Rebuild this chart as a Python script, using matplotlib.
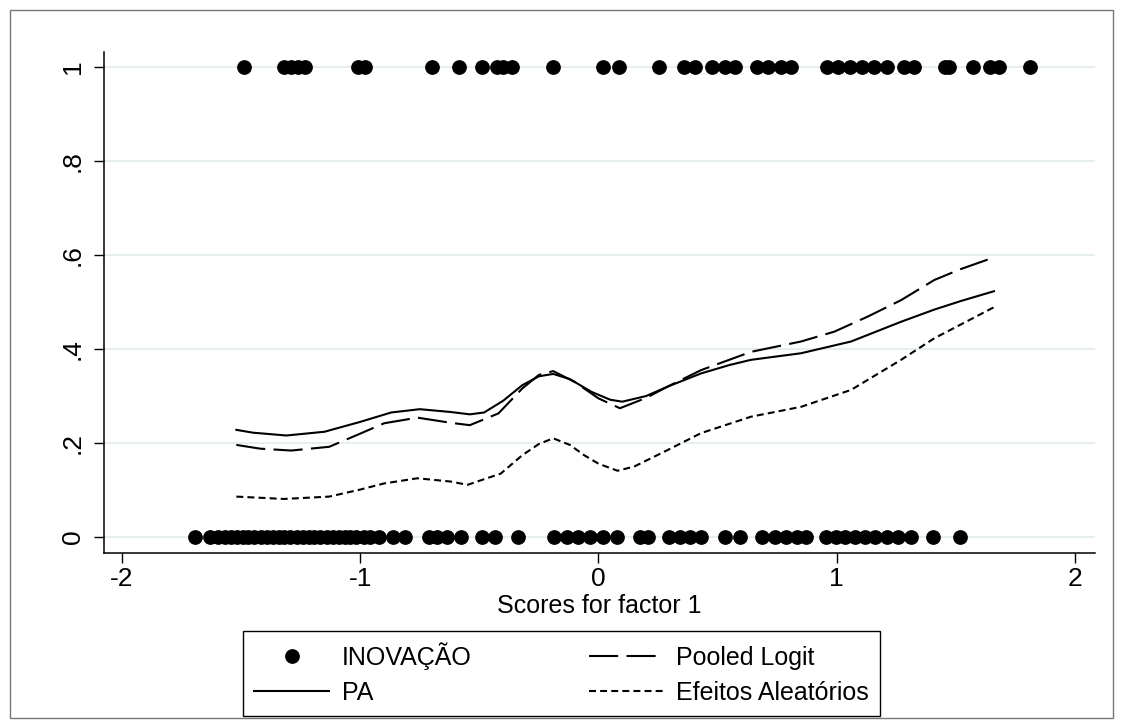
#!/usr/bin/env python3
"""
Predicted probability of innovation vs factor score: PA, pooled logit
and random-effects fits, with the observed 0/1 outcome as dots.
Output: out.png
"""
import matplotlib
matplotlib.use("Agg")
import matplotlib.pyplot as plt
import matplotlib.ticker as mticker
from matplotlib.lines import Line2D
from matplotlib.patches import Rectangle

plt.rcParams.update({
    "font.family":       ["Liberation Sans", "DejaVu Sans"],
    "font.size":         16,
    "axes.linewidth":    1.1,
    "axes.unicode_minus": False,
    "lines.scale_dashes": False,
    "figure.dpi":        100,
})

# observed outcome (INOVAÇÃO) by factor score
score_inov1 = [-1.486, -1.322, -1.292, -1.263, -1.230, -1.011, -0.978, -0.697,
               -0.587, -0.491, -0.424, -0.399, -0.361, -0.193, 0.017, 0.088,
               0.252, 0.361, 0.403, 0.478, 0.533, 0.575, 0.667, 0.713, 0.764,
               0.806, 0.961, 1.007, 1.057, 1.108, 1.158, 1.209, 1.284, 1.326,
               1.456, 1.473, 1.574, 1.645, 1.679, 1.813]
score_inov0 = [-1.695, -1.632, -1.595, -1.569, -1.544, -1.519, -1.494, -1.469,
               -1.444, -1.418, -1.393, -1.368, -1.343, -1.318, -1.293, -1.267,
               -1.242, -1.217, -1.192, -1.167, -1.141, -1.116, -1.091, -1.066,
               -1.041, -1.016, -0.986, -0.961, -0.923, -0.864, -0.814, -0.713,
               -0.676, -0.634, -0.579, -0.487, -0.436, -0.336, -0.185, -0.134,
               -0.084, -0.034, 0.017, 0.076, 0.176, 0.206, 0.294, 0.344, 0.386,
               0.432, 0.529, 0.596, 0.688, 0.739, 0.789, 0.835, 0.869, 0.953,
               0.995, 1.036, 1.078, 1.120, 1.162, 1.213, 1.259, 1.313, 1.402,
               1.519]

# fitted curves
pa_x = [-1.52, -1.45, -1.31, -1.15, -1.0, -0.87, -0.75, -0.62, -0.54, -0.48,
        -0.40, -0.32, -0.25, -0.19, -0.12, -0.03, 0.05, 0.10, 0.20, 0.29,
        0.43, 0.55, 0.64, 0.85, 1.06, 1.27, 1.41, 1.52, 1.66]
pa_y = [0.228, 0.222, 0.216, 0.224, 0.245, 0.265, 0.272, 0.266, 0.261, 0.265,
        0.290, 0.323, 0.342, 0.347, 0.336, 0.309, 0.292, 0.288, 0.300, 0.320,
        0.348, 0.366, 0.377, 0.391, 0.416, 0.458, 0.484, 0.502, 0.523]

pooled_x = [-1.52, -1.42, -1.29, -1.13, -1.0, -0.90, -0.76, -0.62, -0.54,
            -0.42, -0.32, -0.25, -0.19, -0.10, 0.0, 0.09, 0.20, 0.29, 0.43,
            0.64, 0.85, 0.99, 1.13, 1.27, 1.41, 1.52, 1.66]
pooled_y = [0.196, 0.188, 0.184, 0.192, 0.220, 0.242, 0.254, 0.243, 0.238,
            0.263, 0.316, 0.345, 0.353, 0.330, 0.295, 0.274, 0.296, 0.320,
            0.355, 0.394, 0.416, 0.437, 0.469, 0.504, 0.547, 0.570, 0.595]

re_x = [-1.52, -1.32, -1.13, -1.0, -0.90, -0.76, -0.62, -0.55, -0.41, -0.32,
        -0.25, -0.19, -0.12, -0.06, 0.0, 0.08, 0.15, 0.29, 0.43, 0.64, 0.85,
        1.06, 1.27, 1.41, 1.52, 1.66]
re_y = [0.086, 0.081, 0.086, 0.101, 0.114, 0.125, 0.118, 0.111, 0.135, 0.174,
        0.198, 0.210, 0.196, 0.174, 0.156, 0.141, 0.150, 0.185, 0.221, 0.256,
        0.277, 0.313, 0.377, 0.423, 0.452, 0.489]

x_ticks = [-2, -1, 0, 1, 2]
y_ticks = [0, 0.2, 0.4, 0.6, 0.8, 1]
y_ticklabels = ["0", ".2", ".4", ".6", ".8", "1"]

LONG_DASH = (0, (21, 6))
SHORT_DASH = (0, (5, 3))


def main():
    fig = plt.figure(figsize=(11.23, 7.24))
    ax = fig.add_axes([104 / 1123, 1 - 553 / 724, 991 / 1123, 501 / 724])

    # outer graph frame
    fig.add_artist(Rectangle((10 / 1123, 6 / 724), 1103 / 1123, 708 / 724,
                             transform=fig.transFigure, fill=False,
                             edgecolor="#777777", lw=1.0))

    for yv in y_ticks:
        ax.axhline(yv, color="#e6eef0", lw=1.4, zorder=0)

    ax.plot(score_inov1, [1] * len(score_inov1), "o", color="black",
            ms=9.6, zorder=5)
    ax.plot(score_inov0, [0] * len(score_inov0), "o", color="black",
            ms=9.6, zorder=5)
    ax.plot(pa_x, pa_y, color="black", lw=1.5, ls="-")
    ax.plot(pooled_x, pooled_y, color="black", lw=1.5, ls=LONG_DASH)
    ax.plot(re_x, re_y, color="black", lw=1.5, ls=SHORT_DASH)

    ax.set_xlim(-2.0755, 2.084)
    ax.set_ylim(-0.034, 1.032)
    ax.spines["top"].set_visible(False)
    ax.spines["right"].set_visible(False)
    ax.xaxis.set_major_locator(mticker.FixedLocator(x_ticks))
    ax.set_yticks(y_ticks)
    ax.set_yticklabels(y_ticklabels, rotation=90, va="center")
    ax.tick_params(axis="both", direction="out", length=7, width=1.0,
                   labelsize=19)
    ax.tick_params(axis="y", pad=7)
    ax.tick_params(axis="x", pad=3)
    ax.set_xlabel("Scores for factor 1", fontsize=18, labelpad=2)

    handles = [
        Line2D([], [], marker="o", ls="none", color="black", ms=9.6),
        Line2D([], [], color="black", lw=1.5, ls="-"),
        Line2D([], [], color="black", lw=1.5, ls=LONG_DASH),
        Line2D([], [], color="black", lw=1.5, ls=SHORT_DASH),
    ]
    labels = ["INOVAÇÃO", "PA", "Pooled Logit", "Efeitos Aleatórios"]
    leg = fig.legend(handles, labels, ncol=2, mode="expand",
                     bbox_to_anchor=(243 / 1123, 1 - 716 / 724, 637 / 1123, 80 / 724),
                     loc="lower left", borderaxespad=0, fontsize=18,
                     handlelength=3.0, fancybox=False, edgecolor="black",
                     framealpha=1, borderpad=0.45, labelspacing=0.45,
                     columnspacing=1.0, handletextpad=0.5)
    leg.get_frame().set_linewidth(1.0)

    fig.savefig("out.png", dpi=100)


if __name__ == "__main__":
    main()
